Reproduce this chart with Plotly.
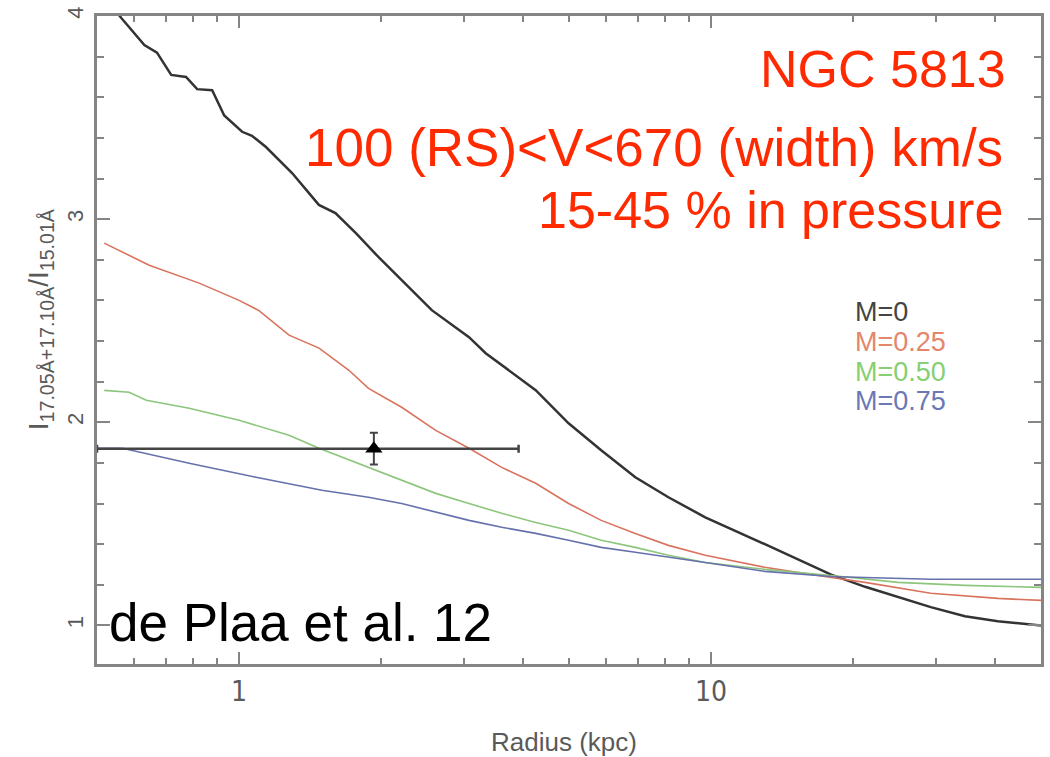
import plotly.graph_objects as go

# ---------------- data ----------------
r_m0 = [0.50, 0.563, 0.63, 0.67, 0.718, 0.772, 0.815, 0.877, 0.93, 1.015, 1.065, 1.14, 1.295,
        1.476, 1.60, 1.77, 1.98, 2.21, 2.56, 3.07, 3.33, 4.25, 4.99, 5.85, 6.91, 8.12, 9.72,
        13.0, 17.96, 21.2, 24.9, 29.2, 34.5, 40.5, 50.0]
v_m0 = [4.14, 3.99, 3.857, 3.82, 3.71, 3.70, 3.64, 3.635, 3.51, 3.43, 3.41, 3.355, 3.227,
        3.07, 3.03, 2.93, 2.81, 2.70, 2.552, 2.419, 2.34, 2.158, 1.995, 1.862, 1.729, 1.631, 1.532,
        1.40, 1.25, 1.19, 1.14, 1.09, 1.045, 1.02, 1.0]

r_m25 = [0.518, 0.645, 0.823, 1.0, 1.102, 1.276, 1.477, 1.709, 1.88, 2.21, 2.61, 3.07, 3.60,
         4.25, 4.99, 5.85, 6.91, 8.12, 9.72, 13.0, 17.96, 21.2, 29.2, 40.5, 50.0]
v_m25 = [2.882, 2.773, 2.685, 2.60, 2.55, 2.429, 2.365, 2.256, 2.167, 2.074, 1.96, 1.872, 1.778,
         1.70, 1.60, 1.517, 1.453, 1.394, 1.345, 1.286, 1.236, 1.212, 1.158, 1.133, 1.123]

r_m50 = [0.518, 0.585, 0.636, 0.784, 1.0, 1.276, 1.477, 1.88, 2.21, 2.61, 3.07, 3.60, 4.25,
         4.99, 5.85, 6.91, 8.12, 9.72, 13.0, 17.96, 24.9, 34.5, 50.0]
v_m50 = [2.157, 2.148, 2.108, 2.069, 2.01, 1.936, 1.872, 1.778, 1.714, 1.65, 1.60, 1.552, 1.507,
         1.468, 1.419, 1.384, 1.345, 1.31, 1.276, 1.246, 1.212, 1.197, 1.187]

r_m75 = [0.50, 0.566, 0.784, 1.086, 1.498, 1.88, 2.21, 2.61, 3.07, 3.60, 4.25, 4.99, 5.85,
         6.91, 8.12, 9.72, 13.0, 17.96, 21.2, 29.2, 50.0]
v_m75 = [1.872, 1.872, 1.798, 1.729, 1.665, 1.631, 1.60, 1.557, 1.517, 1.483, 1.453, 1.419, 1.384,
         1.36, 1.335, 1.31, 1.266, 1.241, 1.236, 1.227, 1.227]

# observed point
obs_r = [1.93]
obs_v = [1.87]
obs_r_lo = [0.50]
obs_r_hi = [3.91]
obs_v_err = [0.078]

legend_labels = ["M=0", "M=0.25", "M=0.50", "M=0.75"]
x_tickvals = [1, 10]
x_ticktext = ["1", "10"]
x_minor = [0.6, 0.7, 0.8, 0.9, 2, 3, 4, 5, 6, 7, 8, 9, 20, 30, 40, 50]
y_tickvals = [1, 2, 3, 4]

# ---------------- styling ----------------
W, H = 1050, 757
L, R, T, B = 97, 1044, 16, 664
FONT = "Liberation Sans, Arial, sans-serif"
NARROW = "Liberation Sans Narrow, DejaVu Sans Condensed, Liberation Sans, Arial, sans-serif"
line_cols = ["#333333", "#d9735d", "#8cc67c", "#6670ad"]
text_cols = ["#444444", "#e3866c", "#86cf73", "#6c78b5"]
widths = [2.5, 1.6, 1.6, 1.6]
AX = "#858585"
LBL = "#5a5a5a"

def px(xp):
    return (xp - L) / (R - L)

def py(yp):
    return (B - yp) / (B - T)

fig = go.Figure()
series = [(r_m0, v_m0), (r_m25, v_m25), (r_m50, v_m50), (r_m75, v_m75)]
for (rr, vv), c, w, name in zip(series, line_cols, widths, legend_labels):
    fig.add_trace(go.Scatter(x=rr, y=vv, mode="lines", name=name,
                             line=dict(color=c, width=w), showlegend=False))

fig.add_trace(go.Scatter(
    x=obs_r, y=obs_v, mode="markers", showlegend=False,
    marker=dict(symbol="triangle-up", size=15, color="black"),
    error_x=dict(type="data", symmetric=False,
                 array=[h - x for h, x in zip(obs_r_hi, obs_r)],
                 arrayminus=[x - l for l, x in zip(obs_r_lo, obs_r)],
                 color="#444444", thickness=2.5, width=4),
    error_y=dict(type="data", array=obs_v_err, color="#444444", thickness=2, width=4),
))

axis_common = dict(showline=True, linecolor=AX, linewidth=3, mirror="allticks",
                   ticks="inside", tickcolor=AX, tickwidth=2, showgrid=False, zeroline=False)

fig.update_xaxes(type="log", range=[-0.30103, 1.69897],
                 tickmode="array", tickvals=x_tickvals, ticktext=x_ticktext, ticklen=12,
                 tickfont=dict(family=NARROW, size=28, color=LBL),
                 minor=dict(tickmode="array", tickvals=x_minor, ticks="inside", ticklen=6,
                            tickcolor=AX, tickwidth=2),
                 ticklabelstandoff=0, **axis_common)
fig.update_yaxes(range=[0.81, 4.0], tickmode="array", tickvals=y_tickvals, ticklen=13,
                 tickangle=-90, tickfont=dict(family=FONT, size=22, color=LBL),
                 minor=dict(dtick=0.2, ticks="inside", ticklen=7, tickcolor=AX, tickwidth=2),
                 ticklabelstandoff=2, **axis_common)

ann = []
# legend as coloured text
leg_y = [312, 342, 372, 401]
for lab, c, yy in zip(legend_labels, text_cols, leg_y):
    ann.append(dict(text=lab, x=px(855), y=py(yy), xanchor="left", yanchor="middle",
                    font=dict(family=FONT, size=27, color=c)))
# red labels
red = "#ff2a00"
ann.append(dict(text="NGC 5813", x=px(1011), y=py(69), xanchor="right", yanchor="middle",
                font=dict(family=FONT, size=52, color=red)))
ann.append(dict(text="100 (RS)&lt;V&lt;670 (width) km/s", x=px(1008), y=py(147),
                xanchor="right", yanchor="middle", font=dict(family=FONT, size=53, color=red)))
ann.append(dict(text="15-45 % in pressure", x=px(1008), y=py(210), xanchor="right",
                yanchor="middle", font=dict(family=FONT, size=52, color=red)))
ann.append(dict(text="de Plaa et al. 12", x=px(107), y=py(622), xanchor="left",
                yanchor="middle", font=dict(family=FONT, size=53, color="black")))
# axis titles
ann.append(dict(text="Radius (kpc)", x=px(565), y=py(742), xanchor="center", yanchor="middle",
                font=dict(family=FONT, size=26, color=LBL)))
ann.append(dict(text="I<sub>17.05Å+17.10Å</sub>/I<sub>15.01Å</sub>", x=px(40), y=py(319),
                xanchor="center", yanchor="middle", textangle=-90,
                font=dict(family=FONT, size=28, color=LBL)))
for a in ann:
    a.update(xref="paper", yref="paper", showarrow=False)

fig.update_layout(width=W, height=H, margin=dict(l=L, r=W - R, t=T, b=H - B),
                  paper_bgcolor="white", plot_bgcolor="white", annotations=ann,
                  font=dict(family=FONT))

fig.write_html("out.html")
